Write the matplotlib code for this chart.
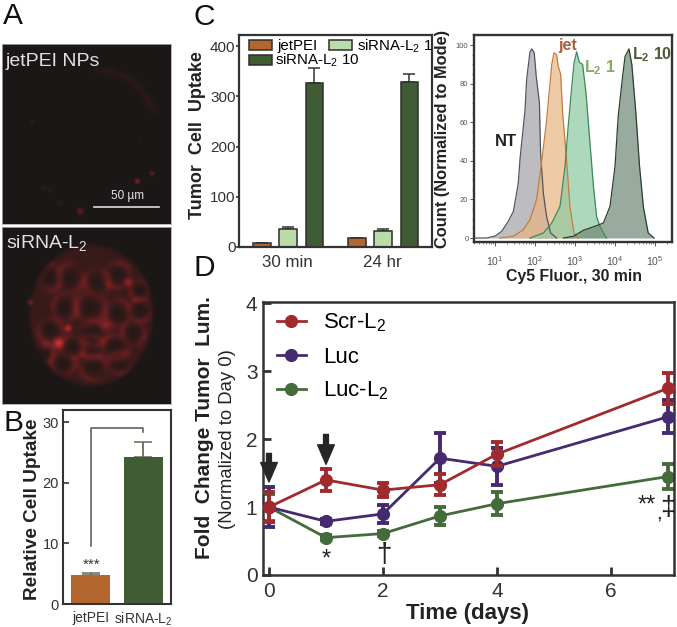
import numpy as np
import matplotlib
matplotlib.use('Agg')
import matplotlib.pyplot as plt
from matplotlib.colors import LinearSegmentedColormap
from matplotlib.ticker import FixedLocator, NullFormatter, FuncFormatter

plt.rcParams['font.family'] = ['Liberation Sans', 'DejaVu Sans']
plt.rcParams['mathtext.fontset'] = 'custom'
plt.rcParams['mathtext.rm'] = 'Liberation Sans'
plt.rcParams['mathtext.it'] = 'Liberation Sans:italic'
plt.rcParams['mathtext.bf'] = 'Liberation Sans:bold'
plt.rcParams['mathtext.default'] = 'regular'

W, H = 677, 627
ORANGE = '#b3672f'
DARK = '#3f5c34'
LIGHT = '#b9dcaa'
INK = '#333333'

top_spots = [(137, 181, 1.6, 0.6), (152, 173, 1.6, 0.4), (80, 211, 2.2, 0.4), (50, 190, 1.3, 0.2),
             (32, 122, 1, 0.25), (60, 203, 1.5, 0.15), (44, 187, 1.5, 0.15), (140, 140, 1.5, 0.08)]
top_arc = [(95, 70), (110, 71), (125, 76), (138, 86), (148, 100), (155, 112)]
cell_rings = [(70, 278, 11, 13), (97, 282, 11, 12), (117, 275, 12, 11), (50, 277, 10, 12),
              (90, 307, 14, 12), (117, 313, 11, 12), (140, 310, 10, 10), (65, 307, 11, 12),
              (50, 330, 11, 11), (93, 333, 12, 11), (72, 347, 11, 10), (43, 353, 9, 10),
              (92, 347, 11, 10), (115, 347, 12, 11), (63, 363, 11, 10), (93, 367, 12, 11),
              (120, 363, 11, 10), (133, 333, 10, 11), (140, 290, 9, 9)]
cell_spots = [(58, 343, 3.5, 0.85), (68, 328, 2.5, 0.7), (128, 282, 3, 0.45), (30, 302, 2, 0.4),
              (105, 325, 4, 0.3), (45, 345, 3, 0.25)]

# panel B
b_names = ['jetPEI', 'siRNA-L$_2$']
b_vals = [4.8, 24.2]
b_errs = [0.35, 2.5]

# panel C
c_groups = ['30 min', '24 hr']
c_jet = [7, 17]
c_jet_err = [1, 1.5]
c_l1 = [35, 31]
c_l1_err = [5, 4]
c_l10 = [326, 328]
c_l10_err = [30, 16]

# panel C right, histograms (log10 fluorescence, % of mode)
nt_x = [0.5, 0.79, 1, 1.17, 1.33, 1.46, 1.58, 1.63, 1.75, 1.79, 1.875, 1.92, 1.98, 2.03, 2.11, 2.14, 2.21, 2.29, 2.39, 2.54]
nt_y = [0, 0, 1, 3.5, 8.6, 13.8, 28, 42, 66, 82, 96.5, 98, 96, 84, 70, 44, 23, 11, 2.6, 0]
jet_x = [1.125, 1.46, 1.71, 1.875, 2.04, 2.17, 2.29, 2.42, 2.475, 2.54, 2.58, 2.64, 2.69, 2.79, 2.875, 2.975, 3.08]
jet_y = [0, 0.9, 4.3, 9.5, 20, 40, 61, 90, 96, 95, 89, 85, 65, 40, 16, 2.6, 0]
l1_x = [1.875, 2.21, 2.42, 2.625, 2.75, 2.83, 2.92, 2.975, 3.04, 3.11, 3.19, 3.275, 3.375, 3.46, 3.54, 3.625, 3.71, 3.79]
l1_y = [0, 2.6, 7.8, 16.4, 37, 58, 78.5, 90.5, 96.5, 91, 90, 75, 49, 27, 11, 6, 2.6, 0]
l10_x = [2.71, 2.96, 3.21, 3.54, 3.71, 3.875, 4, 4.08, 4.17, 4.25, 4.35, 4.42, 4.525, 4.61, 4.71, 4.83, 4.975]
l10_y = [0, 0.9, 4, 6.4, 7.8, 16.4, 37, 63, 80, 94, 98, 90, 64, 38, 16, 2.6, 0]

# panel D
days = [0, 1, 2, 3, 4, 7]
scr = [1.0, 1.4, 1.25, 1.33, 1.78, 2.75]
scr_err = [0.22, 0.16, 0.1, 0.15, 0.18, 0.23]
luc = [1.0, 0.79, 0.9, 1.72, 1.6, 2.33]
luc_err = [0.3, 0.04, 0.13, 0.37, 0.27, 0.24]
lucl2 = [1.0, 0.55, 0.61, 0.87, 1.05, 1.45]
lucl2_err = [0.2, 0.04, 0.04, 0.13, 0.17, 0.18]


def box(x0, y0, x1, y1):
    return [x0 / W, 1 - y1 / H, (x1 - x0) / W, (y1 - y0) / H]


def label(x, y, s, **kw):
    fig.text(x / W, 1 - y / H, s, ha='center', va='center', **kw)


def style(ax, lw=1.6):
    for s in ax.spines.values():
        s.set_linewidth(lw)
        s.set_color(INK)


def splat(x, y, spots):
    out = np.zeros_like(x)
    for cx, cy, s, a in spots:
        out += a * np.exp(-((x - cx) ** 2 + (y - cy) ** 2) / (2 * s ** 2))
    return out


fig = plt.figure(figsize=(W / 100, H / 100), dpi=100)

# ---- A
cmap = LinearSegmentedColormap.from_list('red', ['#1c1717', '#6e2020', '#b82c2c', '#ee3c3c'])
for (y0, y1) in [(44, 224), (227, 404)]:
    ax = fig.add_axes(box(2, y0, 171, y1))
    xx, yy = np.meshgrid(np.arange(2, 171, 0.5), np.arange(y0, y1, 0.5))
    grain = 0.72 + 0.28 * np.sin(xx * 2.7 + yy * 1.3) * np.sin(xx * 1.1 - yy * 2.9)
    if y0 == 44:
        img = splat(xx, yy, top_spots)
        for i in range(len(top_arc) - 1):
            for t in np.linspace(0, 1, 6):
                ax_x = top_arc[i][0] + t * (top_arc[i + 1][0] - top_arc[i][0])
                ax_y = top_arc[i][1] + t * (top_arc[i + 1][1] - top_arc[i][1])
                img += 0.035 * np.exp(-((xx - ax_x) ** 2 + (yy - ax_y) ** 2) / 14.0)
    else:
        rr = np.sqrt(((xx - 91) / 63) ** 2 + ((yy - 315) / 72) ** 2)
        img = 0.16 * (rr < 1)
        for n, (cx, cy, rx, ry) in enumerate(cell_rings):
            r = np.sqrt(((xx - cx) / rx) ** 2 + ((yy - cy) / ry) ** 2)
            th = np.arctan2(yy - cy, xx - cx)
            # rings fade in and out around the cell so the outlines stay broken
            img += 0.2 * (0.6 + 0.4 * np.sin(2 * th + n * 1.9)) * np.exp(-((r - 1.1) * 3.0) ** 2)
            img -= 0.1 * np.exp(-(r * 1.5) ** 2)
        img = np.clip(img, 0, None) * np.clip((1.03 - rr) * 10, 0, 1)
        img += splat(xx, yy, cell_spots)
    ax.imshow(np.clip(img * grain, 0, 1), cmap=cmap, vmin=0, vmax=1, extent=[2, 171, y1, y0],
              aspect='auto', interpolation='bilinear')
    ax.set_xticks([])
    ax.set_yticks([])
    style(ax, 0.6)
    for s in ax.spines.values():
        s.set_color('#aaaaaa')
    if y0 == 44:
        ax.plot([94, 159], [207, 207], color='#dddddd', lw=1.2)
        ax.text(128, 196.5, '50 µm', color='#e6e6e6', fontsize=8.5, ha='center', va='center')
        ax.text(6, 61, 'jetPEI NPs', color='#e0e0e0', fontsize=14, va='center')
    else:
        ax.text(6, 243, 'siRNA-L$_2$', color='#e0e0e0', fontsize=14, va='center')

# ---- B
ax = fig.add_axes(box(63, 410, 171, 604))
ax.bar([0, 1], b_vals, width=0.736, color=[ORANGE, DARK], zorder=2)
ax.errorbar([0, 1], b_vals, yerr=[[0, 0], b_errs], fmt='none', ecolor='#6a6a55', elinewidth=1.3,
            capsize=6.5, capthick=1.1, zorder=1)
ax.plot([0, 0, 1, 1], [9.5, 29.1, 29.1, 28.4], color='#555555', lw=1.1)
ax.text(0.02, 6.5, '***', fontsize=11, ha='center', va='center', color=INK)
ax.set_xlim(-0.52, 1.52)
ax.set_ylim(0, 32)
ax.set_yticks([0, 10, 20, 30])
ax.set_xticks([0, 1])
ax.set_xticklabels(b_names)
ax.tick_params(axis='y', direction='in', labelsize=10.5, length=4, width=1.2, pad=3, colors=INK)
ax.tick_params(axis='x', direction='in', labelsize=10, length=4, width=1.2, pad=5, colors=INK)
style(ax, 1.5)
label(33, 509, 'Relative Cell Uptake', rotation=90, fontsize=13.7, fontweight='bold', color='#222222')

# ---- C bars
ax = fig.add_axes(box(239, 35, 432, 247))
gx = np.array([0, 3.654])
w = 0.69
edge = dict(edgecolor='#2e2e2e', linewidth=1.1, zorder=2)
eb = dict(fmt='none', ecolor='#333333', elinewidth=1.1, capsize=4, capthick=1.1, zorder=1)
h1 = ax.bar(gx, c_jet, w, color=ORANGE, **edge)
h2 = ax.bar(gx + 1, c_l1, w, color=LIGHT, **edge)
h3 = ax.bar(gx + 2.03, c_l10, w, color=DARK, **edge)
ax.errorbar(gx, c_jet, yerr=[[0, 0], c_jet_err], **eb)
ax.errorbar(gx + 1, c_l1, yerr=[[0, 0], c_l1_err], **eb)
ax.errorbar(gx + 2.03, c_l10, yerr=[[0, 0], c_l10_err], **eb)
ax.set_xlim(-0.873, 6.55)
ax.set_ylim(0, 422)
ax.set_yticks([0, 100, 200, 300, 400])
ax.set_xticks(gx + 1)
ax.set_xticklabels(c_groups)
ax.tick_params(axis='y', direction='out', labelsize=11, length=2.5, width=1.2, pad=0, colors=INK)
ax.tick_params(axis='x', length=0, labelsize=12.2, pad=6, colors=INK)
style(ax, 1.6)
leg1 = ax.legend([h1, h2], ['jetPEI', 'siRNA-L$_2$ 1'], ncol=2, frameon=False, fontsize=10.8,
                 loc='upper left', bbox_to_anchor=(0.052, 0.99), handlelength=1.55, handleheight=0.65,
                 handletextpad=0.35, columnspacing=0.75, borderpad=0, borderaxespad=0)
ax.add_artist(leg1)
ax.legend([h3], ['siRNA-L$_2$ 10'], frameon=False, fontsize=10.8, loc='upper left',
          bbox_to_anchor=(0.052, 0.92), handlelength=1.55, handleheight=0.65, handletextpad=0.2,
          borderpad=0, borderaxespad=0)
label(197, 135, 'Tumor  Cell  Uptake', rotation=90, fontsize=13, fontweight='bold', color='#222222')

# ---- C histograms
ax = fig.add_axes(box(474, 35, 672, 242))
ax.set_xscale('log')
curves = [(nt_x, nt_y, '#a2a2aa', '#555560'), (jet_x, jet_y, '#e8b684', '#c47f3c'),
          (l1_x, l1_y, '#8fc9a2', '#3a8a5c'), (l10_x, l10_y, '#72897a', '#2c3f2e')]
for cx, cy, fc, ec in curves:
    vx = 10 ** np.array(cx)
    ax.fill_between(vx, 0, cy, color=fc, alpha=0.72, lw=0, zorder=2)
    ax.plot(vx, cy, color=ec, lw=0.9, zorder=3)
ax.set_xlim(10 ** 0.475, 10 ** 5.425)
ax.set_ylim(-2.07, 105.2)
ax.set_yticks([0, 20, 40, 60, 80, 100])
ax.yaxis.set_minor_locator(FixedLocator(list(range(0, 101, 5))))
ax.set_xticks([1e1, 1e2, 1e3, 1e4, 1e5])
ax.xaxis.set_major_formatter(FuncFormatter(lambda v, p: '$10^{%d}$' % round(np.log10(v))))
ax.yaxis.set_minor_formatter(NullFormatter())
ax.tick_params(axis='y', which='major', labelsize=5.5, length=3, width=0.7, pad=1, colors='#555555')
ax.tick_params(axis='y', which='minor', length=1.5, width=0.5, colors='#555555')
ax.tick_params(axis='x', which='major', labelsize=7.5, length=3, width=0.7, pad=6, colors='#555555')
ax.tick_params(axis='x', which='minor', length=1.5, width=0.5, colors='#555555')
style(ax, 1.7)
ax.text(10 ** 1.275, 50, 'NT', fontsize=12, fontweight='bold', color='#222222', ha='center', va='center')
ax.text(10 ** 2.825, 99.5, 'jet', fontsize=11.5, fontweight='bold', color='#a5603a', ha='center', va='center')
ax.text(10 ** 3.625, 88.5, r'$\mathbf{L_2}$ 1', fontsize=11.5, fontweight='bold', color='#86ac62', ha='center', va='center')
ax.text(10 ** 4.925, 95, r'$\mathbf{L_2}$ 10', fontsize=11.5, fontweight='bold', color='#4d5d3c', ha='center', va='center')
label(442, 139, 'Count (Normalized to Mode)', rotation=90, fontsize=11.8, fontweight='bold', color='#222222')
label(574, 276, 'Cy5 Fluor., 30 min', fontsize=11.4, fontweight='bold', color='#222222')

# ---- D
ax = fig.add_axes(box(263, 302, 674, 575))
series = [(scr, scr_err, '#a02a2e', 'Scr-L$_2$', 4), (luc, luc_err, '#452a70', 'Luc', 3),
          (lucl2, lucl2_err, '#446b3a', 'Luc-L$_2$', 2)]
for vals, errs, col, name, z in series:
    ax.errorbar(days, vals, yerr=errs, color=col, lw=2, marker='o', ms=8.5, elinewidth=2.8,
                capsize=4, capthick=2.8, label=name, zorder=z)
ax.set_xlim(-0.105, 7.105)
ax.set_ylim(0, 4.02)
ax.set_xticks([0, 2, 4, 6])
ax.set_yticks([0, 1, 2, 3, 4])
ax.tick_params(axis='both', direction='in', labelsize=15, length=6, width=2, colors=INK)
ax.tick_params(axis='x', pad=5)
ax.tick_params(axis='y', pad=4)
style(ax, 1.8)
handles, names = ax.get_legend_handles_labels()
handles = [h[0] for h in handles]
ax.legend(handles, names, frameon=False, fontsize=16, loc='upper left', bbox_to_anchor=(0.034, 0.964),
          handlelength=1.3, handletextpad=0.77, labelspacing=0.55, borderpad=0, borderaxespad=0)
for ax_x, top, tip in [(0, 1.79, 1.37), (1, 2.07, 1.63)]:
    ax.annotate('', xy=(ax_x, tip), xytext=(ax_x, top), zorder=6,
                arrowprops=dict(width=3.5, headwidth=12, headlength=14, color='#262626', shrink=0))
ax.text(1.01, 0.23, '*', fontsize=17, ha='center', va='center', color='#222222')
ax.text(2.02, 0.3, '†', fontsize=20, ha='center', va='center', color='#222222')
ax.text(6.63, 1.02, '**', fontsize=17, ha='center', va='center', color='#222222')
ax.text(6.84, 0.92, ',', fontsize=15, ha='center', va='center', color='#222222')
ax.text(7.0, 0.98, '‡', fontsize=20, ha='center', va='center', color='#222222')
label(204, 428, 'Fold  Change Tumor  Lum.', rotation=90, fontsize=15, fontweight='bold', color='#222222')
label(227, 439, '(Normalized to Day 0)', rotation=90, fontsize=13.3, color='#222222')
label(468, 613, 'Time (days)', fontsize=16, fontweight='bold', color='#222222')

# panel letters
for s, x, y in [('A', 13, 16), ('B', 13, 423), ('C', 204, 17), ('D', 204, 268)]:
    label(x, y, s, fontsize=21.5, color='#111111')

fig.savefig('out.png', dpi=100)
plt.close()
